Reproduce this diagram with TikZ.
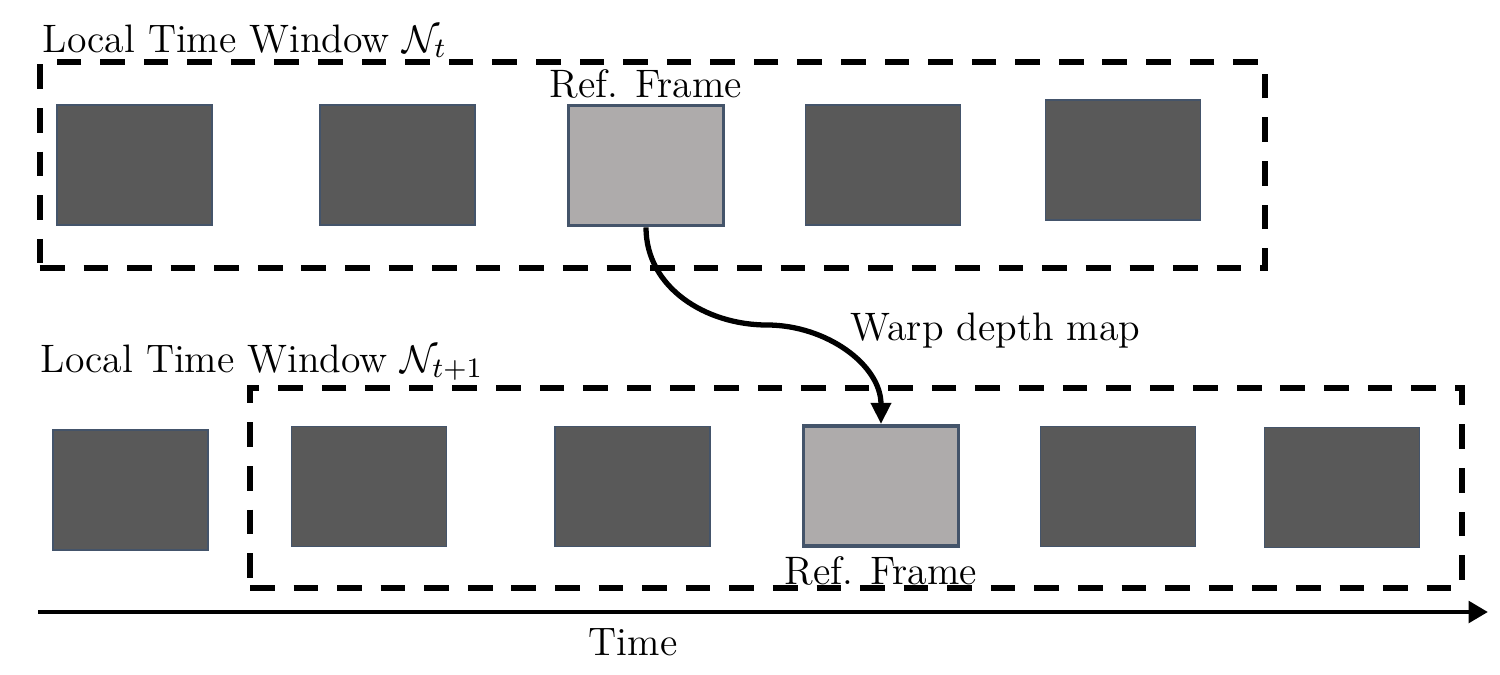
\documentclass[tikz,border=0pt]{standalone}
\usepackage{amsmath,amssymb}
\usepackage{xcolor}
\usepackage{tikz}
\usetikzlibrary{arrows.meta, positioning, calc}
\definecolor{framedark}{RGB}{89,89,89}
\definecolor{framelight}{RGB}{174,171,171}
\definecolor{frameedge}{RGB}{68,84,106}
\tikzset{
    framebox/.style={rectangle, draw=frameedge, fill=#1, minimum width=1.55cm, minimum height=1.2cm, inner sep=0pt, line width=0.4pt},
    refbox/.style={framebox=framelight, line width=1.1pt},
    windowbox/.style={rectangle, draw=black, dash pattern=on 7pt off 5.4pt, line width=1.7pt, inner sep=0pt},
    timearrow/.style={-{Triangle[length=5.5pt, width=6pt]}, line width=1.4pt},
    warparrow/.style={-{Triangle[length=6pt, width=5.5pt]}, line width=1.5pt},
    plainlabel/.style={font=\fontsize{11.3}{13}\selectfont, inner sep=0pt}
}

\begin{document}
\begin{tikzpicture}
\useasboundingbox (0,0) rectangle (15,-6.75);

% local window t
\node[windowbox, minimum width=12.25cm, minimum height=2.06cm] (wint) at (6.525,-1.65) {};
\node[framebox=framedark] (ft1) at (1.345,-1.65) {};
\node[framebox=framedark] (ft2) at (3.975,-1.65) {};
\node[refbox] (reft) at (6.46,-1.655) {};
\node[framebox=framedark] (ft4) at (8.83,-1.65) {};
\node[framebox=framedark] (ft5) at (11.23,-1.60) {};
\node[plainlabel, anchor=base west] (wintlabel) at (0.42,-0.52) {Local Time Window $\mathcal{N}_t$};
\node[plainlabel, above=0.05cm of reft] (reftlabel) {Ref. Frame};

% local window t+1
\node[windowbox, minimum width=12.12cm, minimum height=2.0cm] (winb) at (8.56,-4.88) {};
\node[framebox=framedark] (fb0) at (1.305,-4.90) {};
\node[framebox=framedark] (fb1) at (3.69,-4.865) {};
\node[framebox=framedark] (fb2) at (6.325,-4.865) {};
\node[refbox] (refb) at (8.81,-4.86) {};
\node[framebox=framedark] (fb4) at (11.18,-4.865) {};
\node[framebox=framedark] (fb5) at (13.42,-4.875) {};
\node[plainlabel, anchor=base west] (winblabel) at (0.40,-3.72) {Local Time Window $\mathcal{N}_{t+1}$};
\node[plainlabel, below=0.08cm of refb] (refblabel) {Ref. Frame};

% warp
\coordinate (warpmid) at (7.67,-3.25);
\draw[warparrow] (reft.south) to[out=-90, in=180] (warpmid) to[out=0, in=90] (refb.north);
\node[plainlabel, anchor=base west] (warplabel) at (8.50,-3.40) {Warp depth map};

% time axis
\coordinate (tstart) at (0.38,-6.12);
\coordinate (tend) at (14.88,-6.12);
\draw[timearrow] (tstart) -- (tend);
\node[plainlabel, anchor=base] (timelabel) at (6.33,-6.55) {Time};

\end{tikzpicture}
\end{document}
